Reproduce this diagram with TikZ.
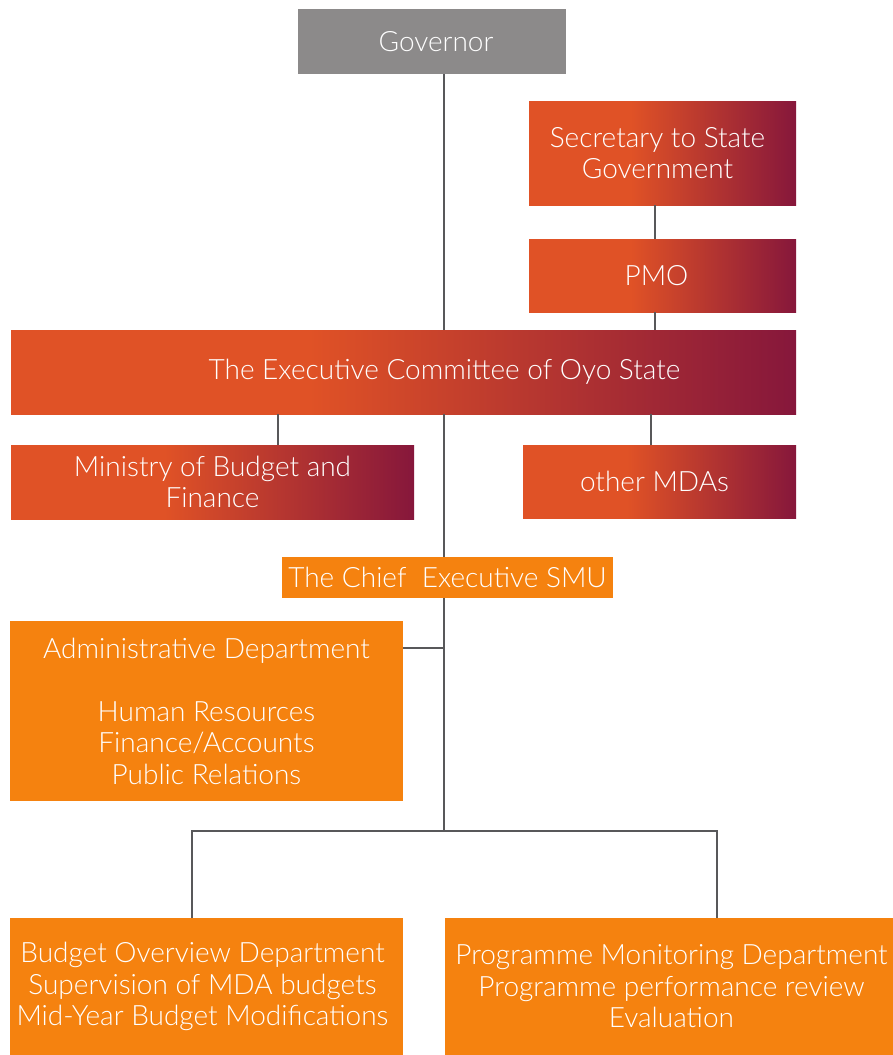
\documentclass[tikz,border=0pt]{standalone}
\usepackage{fontspec}
\setmainfont{Lato}[UprightFont=* Light]
\definecolor{govgray}{HTML}{8C8A8A}
\definecolor{redor}{HTML}{E05226}
\definecolor{maroon}{HTML}{86173B}
\definecolor{smuor}{HTML}{F5820F}
\definecolor{linegray}{HTML}{58585A}
\pgfdeclarehorizontalshading{orgrad}{100bp}{color(0bp)=(redor); color(25bp)=(redor); color(44bp)=(redor); color(75bp)=(maroon); color(100bp)=(maroon)}
\newcommand{\shl}[1]{\hspace*{#1}}
\begin{document}
\begin{tikzpicture}[x=1pt,y=-1pt,
  box/.style={rectangle, inner sep=0pt, align=center, text=white,
    font=\fontsize{28}{31.5}\selectfont},
  govbox/.style={box, fill=govgray},
  gradbox/.style={box, shading=orgrad},
  smubox/.style={box, fill=smuor},
  conn/.style={draw=linegray, line width=2.6pt}]
\useasboundingbox (0,0) rectangle (893,1055);
\fill[white] (0,0) rectangle (893,1055);

\node[govbox, minimum width=268pt, minimum height=65pt] (gov) at (432,41.5) {\shl{8pt}Governor};
\node[gradbox, minimum width=267pt, minimum height=104pt] (ssg) at (662.5,153) {\shl{-10pt}Secretary to State\\\shl{-10pt}Government};
\node[gradbox, minimum width=267pt, minimum height=73pt] (pmo) at (662.5,275.5) {\shl{-12pt}PMO};
\node[gradbox, minimum width=785pt, minimum height=84pt] (exec) at (403.5,372) {\shl{82pt}The Executive Committee of Oyo State};
\node[gradbox, minimum width=403pt, minimum height=74pt] (mbf) at (212.5,482) {Ministry of Budget and\\Finance};
\node[gradbox, minimum width=273pt, minimum height=73pt] (mda) at (659.5,481.5) {\shl{-10pt}other MDAs};
\node[smubox, minimum width=331pt, minimum height=41pt] (smu) at (447.5,577.5) {The Chief~ Executive SMU};
\node[smubox, minimum width=393pt, minimum height=180pt] (adm) at (206.5,711) {Administrative Department\\[31.5pt]Human Resources\\Finance/Accounts\\Public Relations};
\node[smubox, minimum width=393pt, minimum height=137pt] (bod) at (206.5,986.5) {\shl{-8pt}Budget Overview Department\\\shl{-8pt}Supervision of MDA budgets\\\shl{-8pt}Mid-Year Budget Modifications};
\node[smubox, minimum width=448pt, minimum height=137pt] (pmd) at (669,986.5) {\shl{5pt}Programme Monitoring Department\\\shl{5pt}Programme performance review\\\shl{5pt}Evaluation};

\coordinate (spine) at (444,0);
\coordinate (sx) at (655,0);
\coordinate (mx) at (278,0);
\coordinate (ox) at (651,0);
\coordinate (junc) at (444,831);
\coordinate (lx) at (192,0);
\coordinate (rx) at (717,0);

\draw[conn] (gov.south -| spine) -- (exec.north -| spine);
\draw[conn] (ssg.south -| sx) -- (pmo.north -| sx);
\draw[conn] (pmo.south -| sx) -- (exec.north -| sx);
\draw[conn] (exec.south -| mx) -- (mbf.north -| mx);
\draw[conn] (exec.south -| ox) -- (mda.north -| ox);
\draw[conn] (exec.south -| spine) -- (smu.north -| spine);
\draw[conn] (smu.south -| spine) -- (junc);
\draw[conn] (adm.east |- 0,648) -- (spine |- 0,648);
\draw[conn, line join=miter] (bod.north -| lx) -- (junc -| lx) -- (junc -| rx) -- (pmd.north -| rx);
\end{tikzpicture}
\end{document}
